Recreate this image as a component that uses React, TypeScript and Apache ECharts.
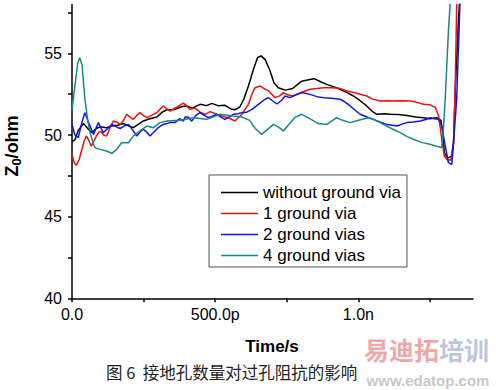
import React, { useEffect, useRef } from "react";
import * as echarts from "echarts";

const seriesNames = ["without ground via", "1 ground via", "2 ground vias", "4 ground vias"];
const seriesColors = ["#000000", "#ee1111", "#1111ee", "#178a80"];

const xMajorTicks = [0, 500, 1000];
const xAllTicks = [0, 250, 500, 750, 1000, 1250];
const yMajorTicks = [40, 45, 50, 55];
const yAllTicks = [40, 42.5, 45, 47.5, 50, 52.5, 55, 57.5];

const noViaData: [number, number][] = [
  [0, 49.6], [10, 49.7], [22, 50.3], [40, 50.7], [55, 50.4], [69, 50.15], [85, 50.4], [98, 50.5],
  [120, 50.45], [140, 50.55], [160, 50.6], [180, 50.7], [200, 50.55], [214, 50.45], [235, 50.7],
  [249, 50.86], [272, 51.0], [296, 51.1], [315, 51.4], [331, 51.55], [360, 51.57], [385, 51.75],
  [400, 51.78], [420, 51.65], [447, 51.88], [470, 51.8], [488, 51.94], [510, 51.8], [534, 51.82],
  [555, 51.6], [569, 51.55], [585, 51.7], [600, 52.2], [616, 53.0], [633, 54.0], [648, 54.75],
  [660, 54.85], [675, 54.6], [690, 54.0], [705, 53.2], [720, 52.9], [745, 52.75], [770, 52.85],
  [802, 53.3], [830, 53.4], [845, 53.45], [870, 53.25], [889, 53.1], [915, 52.95], [936, 52.8],
  [960, 52.6], [983, 52.39], [1006, 52.1], [1029, 51.78], [1045, 51.5], [1064, 51.27], [1090, 51.3],
  [1111, 51.27], [1140, 51.25], [1169, 51.2], [1200, 51.1], [1227, 51.06], [1250, 51.0], [1274, 51.06],
  [1288, 50.9], [1294, 50.2], [1300, 48.9], [1312, 48.6], [1326, 48.7], [1332, 49.5], [1338, 52.8],
  [1350, 57.3], [1360, 60]
];

const oneViaData: [number, number][] = [
  [0, 48.8], [8, 48.3], [15, 48.14], [25, 48.5], [33, 49.02], [42, 49.6], [50, 49.94], [58, 49.7],
  [67, 49.33], [76, 49.6], [85, 49.94], [95, 50.2], [102, 50.2], [110, 50.0], [121, 49.94], [132, 50.4],
  [144, 50.86], [156, 50.8], [168, 50.65], [180, 50.9], [191, 51.27], [203, 51.1], [214, 50.96],
  [226, 51.2], [237, 51.37], [249, 51.2], [261, 51.06], [278, 51.2], [296, 51.37], [308, 51.6],
  [319, 51.78], [331, 51.6], [342, 51.47], [365, 51.7], [389, 51.95], [400, 51.8], [412, 51.57],
  [430, 51.65], [447, 51.4], [465, 51.27], [482, 51.43], [500, 51.3], [523, 51.16], [546, 51.06],
  [569, 50.86], [593, 51.27], [616, 51.88], [628, 52.5], [639, 52.9], [657, 53.0], [670, 52.85],
  [686, 52.7], [709, 52.29], [725, 52.4], [738, 52.6], [755, 52.45], [772, 52.39], [800, 52.6],
  [831, 52.8], [855, 52.85], [878, 52.9], [910, 52.9], [936, 52.85], [960, 52.7], [983, 52.6],
  [1006, 52.5], [1029, 52.39], [1050, 52.2], [1076, 52.08], [1100, 52.1], [1122, 52.08], [1150, 52.1],
  [1181, 52.08], [1205, 52.0], [1227, 51.88], [1250, 51.85], [1268, 51.7], [1280, 51.16], [1291, 49.74],
  [1300, 48.7], [1309, 48.5], [1322, 48.45], [1332, 49.5], [1338, 53.0], [1343, 57.9], [1348, 60]
];

const twoViasData: [number, number][] = [
  [0, 50.65], [10, 50.0], [22, 49.84], [35, 50.8], [45, 51.37], [58, 50.76], [75, 50.04], [92, 50.76],
  [109, 50.15], [125, 50.4], [139, 50.65], [155, 50.5], [168, 50.4], [182, 50.55], [197, 50.65],
  [212, 50.3], [226, 49.94], [238, 50.2], [249, 50.35], [260, 50.2], [272, 49.94], [287, 50.2],
  [301, 50.45], [318, 50.65], [342, 50.76], [360, 50.76], [375, 51.0], [389, 50.86], [395, 51.1],
  [405, 51.1], [418, 50.85], [432, 51.2], [447, 51.37], [462, 51.2], [476, 51.06], [490, 51.15],
  [506, 51.27], [520, 51.1], [534, 50.96], [548, 51.1], [563, 51.27], [580, 51.3], [593, 51.37],
  [610, 51.4], [628, 51.57], [651, 51.88], [674, 52.19], [686, 52.29], [700, 52.1], [715, 51.9],
  [730, 52.1], [744, 52.39], [761, 52.29], [780, 52.45], [802, 52.6], [831, 52.49], [855, 52.35],
  [878, 52.29], [905, 52.25], [936, 52.19], [955, 52.0], [971, 51.78], [990, 51.5], [1006, 51.27],
  [1030, 51.1], [1052, 50.96], [1075, 50.8], [1099, 50.65], [1120, 50.6], [1134, 50.55], [1150, 50.65],
  [1169, 50.76], [1192, 50.8], [1216, 50.86], [1235, 50.95], [1250, 51.06], [1265, 51.0], [1280, 50.96],
  [1291, 50.55], [1303, 49.33], [1314, 48.31], [1326, 48.2], [1332, 49.53], [1343, 52.19], [1353, 57.3],
  [1358, 60]
];

const fourViasData: [number, number][] = [
  [0, 51.5], [10, 53.0], [20, 54.4], [27, 54.74], [35, 54.3], [45, 52.19], [55, 50.9], [63, 50.15],
  [72, 49.6], [80, 49.23], [98, 49.12], [121, 49.02], [139, 48.88], [156, 49.12], [173, 49.53],
  [197, 49.53], [214, 49.94], [237, 50.25], [261, 50.55], [284, 50.45], [307, 50.76], [331, 50.86],
  [377, 50.9], [424, 51.06], [470, 50.96], [517, 51.27], [563, 51.16], [593, 51.1], [620, 50.9],
  [640, 50.4], [662, 50.04], [680, 50.3], [703, 50.65], [720, 50.5], [738, 50.25], [760, 50.7],
  [780, 51.1], [802, 51.27], [830, 51.0], [860, 50.7], [889, 50.65], [910, 50.9], [924, 51.06],
  [945, 50.9], [971, 50.76], [1000, 50.9], [1035, 51.06], [1060, 50.9], [1087, 50.65], [1115, 50.4],
  [1146, 50.15], [1170, 49.9], [1192, 49.74], [1220, 49.55], [1250, 49.43], [1275, 49.3], [1291, 49.23],
  [1297, 50.5], [1303, 52.19], [1314, 56.3], [1320, 58.0], [1325, 60]
];

const allData = [noViaData, oneViaData, twoViasData, fourViasData];

const FONT = "'Liberation Sans', Arial, sans-serif";
const CJK = "'Noto Sans CJK SC', sans-serif";

function xLabel(v: number): string {
  if (v === 0) return "0.0";
  if (v < 1000) return v.toFixed(1) + "p";
  return (v / 1000).toFixed(1) + "n";
}

export default function App() {
  const ref = useRef<HTMLDivElement>(null);
  useEffect(() => {
    if (!ref.current) return;
    const chart = echarts.init(ref.current, undefined, { renderer: "svg" });
    chart.setOption({
      animation: false,
      backgroundColor: "#ffffff",
      grid: { left: 72, top: 4.4, right: 23, bottom: 91.7, containLabel: false },
      xAxis: {
        type: "value",
        min: 0,
        max: 1400,
        splitLine: { show: false },
        axisLine: { show: true, onZero: false, lineStyle: { color: "#000", width: 1.5 } },
        axisTick: { show: true, customValues: xAllTicks, length: 4, lineStyle: { color: "#000", width: 1.5 } },
        axisLabel: {
          customValues: xMajorTicks,
          formatter: (v: number) => xLabel(v),
          color: "#000",
          fontSize: 16,
          fontFamily: FONT,
          margin: 8,
        },
      },
      yAxis: {
        type: "value",
        min: 40,
        max: 58,
        splitLine: { show: false },
        axisLine: { show: true, onZero: false, lineStyle: { color: "#000", width: 1.5 } },
        axisTick: { show: true, customValues: yAllTicks, length: 4, lineStyle: { color: "#000", width: 1.5 } },
        axisLabel: {
          customValues: yMajorTicks,
          color: "#000",
          fontSize: 16,
          fontFamily: FONT,
          margin: 10,
        },
      },
      legend: {
        show: true,
        orient: "vertical",
        left: 209,
        top: 175,
        icon: "rect",
        itemWidth: 37,
        itemHeight: 1.5,
        itemGap: 4,
        padding: [9, 6, 3, 12],
        backgroundColor: "#ffffff",
        borderColor: "#555555",
        borderWidth: 1,
        borderRadius: 0,
        textStyle: { color: "#000", fontSize: 17, fontFamily: FONT, lineHeight: 17 },
        data: seriesNames,
      },
      series: seriesNames.map((name, i) => ({
        name,
        type: "line",
        data: allData[i],
        showSymbol: false,
        symbol: "none",
        clip: true,
        lineStyle: { color: seriesColors[i], width: 1.5 },
        itemStyle: { color: seriesColors[i] },
        z: 2,
      })),
      graphic: [
        {
          type: "text",
          x: 12,
          y: 146,
          rotation: Math.PI / 2,
          style: {
            text: "{a|Z}{b|0}{a|/ohm}",
            align: "center",
            verticalAlign: "middle",
            rich: {
              a: { fontSize: 18, fontWeight: "bold", fontFamily: FONT, fill: "#000" },
              b: { fontSize: 13, fontWeight: "bold", fontFamily: FONT, fill: "#000", padding: [8, 0, 0, 0] },
            },
          },
        },
        {
          type: "text",
          x: 272,
          y: 346,
          style: {
            text: "Time/s",
            fontSize: 17,
            fontWeight: "bold",
            fontFamily: FONT,
            fill: "#000",
            align: "center",
            verticalAlign: "middle",
          },
        },
        {
          type: "text",
          x: 106,
          y: 372,
          style: {
            text: "图 6  接地孔数量对过孔阻抗的影响",
            fontSize: 16.5,
            fontFamily: CJK,
            fill: "#222",
            align: "left",
            verticalAlign: "middle",
          },
        },
        {
          type: "text",
          x: 364,
          y: 349,
          z: 10,
          style: {
            text: "{r|易迪拓}{b|培训}",
            align: "left",
            verticalAlign: "middle",
            rich: {
              r: { fontSize: 25, fontWeight: "bold", fontFamily: CJK, fill: "rgba(225,90,90,0.55)" },
              b: { fontSize: 25, fontWeight: "bold", fontFamily: CJK, fill: "rgba(120,140,185,0.5)" },
            },
          },
        },
        {
          type: "text",
          x: 428,
          y: 380,
          z: 10,
          style: {
            text: "www.edatop.com",
            fontSize: 15,
            fontWeight: "bold",
            fontFamily: FONT,
            fill: "rgba(150,150,150,0.55)",
            align: "center",
            verticalAlign: "middle",
          },
        },
      ],
    });
    return () => chart.dispose();
  }, []);
  return (
    <div
      ref={ref}
      style={{ position: "fixed", left: 0, top: 0, width: 496, height: 390, background: "#fff" }}
    />
  );
}
